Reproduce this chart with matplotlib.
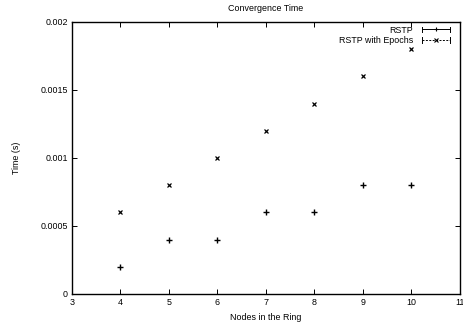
import matplotlib
matplotlib.use("Agg")
import matplotlib.pyplot as plt
from matplotlib.legend_handler import HandlerBase
from matplotlib.lines import Line2D

plt.rcParams['font.family'] = ['Liberation Sans', 'DejaVu Sans']

nodes = [4, 5, 6, 7, 8, 9, 10]
rstp = [0.0002, 0.0004, 0.0004, 0.0006, 0.0006, 0.0008, 0.0008]
rstp_epochs = [0.0006, 0.0008, 0.0010, 0.0012, 0.0014, 0.0016, 0.0018]
xticks = [3, 4, 5, 6, 7, 8, 9, 10, 11]
yticks = [0, 0.0005, 0.001, 0.0015, 0.002]
yticklabels = ['0', '0.0005', '0.001', '0.0015', '0.002']

FS = 6.4


class ErrHandler(HandlerBase):
    def __init__(self, ls, marker):
        super().__init__()
        self.ls = ls
        self.marker = marker

    def create_artists(self, legend, orig_handle, xdescent, ydescent,
                       width, height, fontsize, trans):
        y = height / 2 - ydescent
        x0, x1 = -xdescent, -xdescent + width
        arts = [Line2D([x0, x1], [y, y], color='black', lw=0.7, ls=self.ls,
                       transform=trans)]
        for xe in (x0, x1):
            arts.append(Line2D([xe, xe], [y - 2, y + 2], color='black', lw=0.7,
                               transform=trans))
        arts.append(Line2D([(x0 + x1) / 2], [y], marker=self.marker, ms=3.5,
                           mew=0.8, color='black', ls='none', transform=trans))
        return arts


fig = plt.figure(figsize=(4.63, 3.28), dpi=100)
ax = fig.add_axes([0.1555, 0.1037, 0.838, 0.8293])

h1, = ax.plot(nodes, rstp, ls='none', marker='+', ms=4, mew=1.0, color='black', label='RSTP')
h2, = ax.plot(nodes, rstp_epochs, ls='none', marker='x', ms=3.2, mew=0.9, color='black',
              label='RSTP with Epochs')

ax.set_xlim(3, 11)
ax.set_ylim(0, 0.002)
ax.set_xticks(xticks)
ax.set_xticklabels([str(t) for t in xticks], fontsize=FS)
ax.set_yticks(yticks)
ax.set_yticklabels(yticklabels, fontsize=FS)
ax.tick_params(direction='in', length=3.5, width=0.7, top=True, right=True, pad=3)
for s in ax.spines.values():
    s.set_linewidth(1.0)

ax.set_title('Convergence Time', fontsize=FS, pad=8)
ax.set_xlabel('Nodes in the Ring', fontsize=FS, labelpad=4)
ax.set_ylabel('Time (s)', fontsize=FS, labelpad=14)

leg = ax.legend(handles=[h1, h2], loc='upper right', bbox_to_anchor=(0.983, 1.0),
                frameon=False, fontsize=FS,
                markerfirst=False, handlelength=3.15, handletextpad=1.0,
                labelspacing=0.15, borderaxespad=0.0,
                handler_map={h1: ErrHandler('-', '+'), h2: ErrHandler((0, (2, 1.5)), 'x')})
for t in leg.get_texts():
    t.set_ha('right')

fig.savefig('out.png', dpi=100)
